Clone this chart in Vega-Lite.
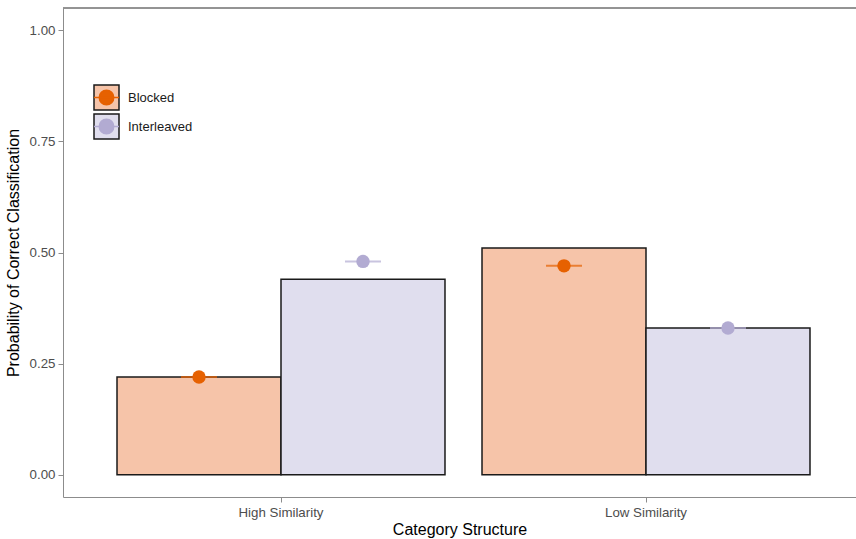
{
  "$schema": "https://vega.github.io/schema/vega-lite/v6.json",
  "width": 793,
  "height": 489,
  "autosize": "none",
  "padding": {"left": 63, "top": 8, "right": 0, "bottom": 42},
  "background": "white",
  "config": {
    "view": {"stroke": null},
    "font": "Liberation Sans",
    "axis": {
      "grid": false,
      "domainColor": "#8c8c8c",
      "domainWidth": 1,
      "tickColor": "#8c8c8c",
      "tickSize": 5,
      "labelColor": "#4d4d4d",
      "labelFontSize": 13.3,
      "titleFontSize": 16,
      "titleFontWeight": "normal",
      "titleColor": "black"
    },
    "legend": {"padding": 0}
  },
  "data": {
    "values": [
      {"structure": "High Similarity", "condition": "Blocked", "group": "Blocked", "bar": 0.22, "point": 0.22},
      {"structure": "High Similarity", "condition": "Interleaved", "group": "Interleaved", "bar": 0.44, "point": 0.48},
      {"structure": "Low Similarity", "condition": "Blocked", "group": "Blocked", "bar": 0.51, "point": 0.47},
      {"structure": "Low Similarity", "condition": "Interleaved", "group": "Interleaved", "bar": 0.33, "point": 0.33}
    ]
  },
  "layer": [
    {
      "mark": {"type": "bar", "stroke": "#1a1a1a", "strokeWidth": 1.5},
      "encoding": {
        "x": {
          "field": "structure",
          "type": "nominal",
          "scale": {"paddingInner": 0.1014, "paddingOuter": 0.137, "align": 0.54},
          "axis": {"title": "Category Structure", "labelAngle": 0, "labelPadding": 3, "titlePadding": 3}
        },
        "xOffset": {
          "field": "condition",
          "type": "nominal",
          "scale": {"paddingInner": 0, "paddingOuter": 0}
        },
        "y": {
          "field": "bar",
          "type": "quantitative",
          "scale": {"domain": [-0.05, 1.05], "nice": false, "zero": false},
          "axis": {
            "title": "Probability of Correct Classification",
            "values": [0, 0.25, 0.5, 0.75, 1],
            "format": ".2f",
            "labelPadding": 3,
            "titlePadding": 8
          }
        },
        "y2": {"datum": 0},
        "fill": {
          "field": "condition",
          "type": "nominal",
          "scale": {"domain": ["Blocked", "Interleaved"], "range": ["#F6C4A9", "#E0DEEE"]},
          "legend": {
            "title": null,
            "orient": "none",
            "legendX": 30,
            "legendY": 76,
            "symbolType": "square",
            "symbolSize": 625,
            "symbolStrokeColor": "#1a1a1a",
            "symbolStrokeWidth": 1.5,
            "symbolOpacity": 1,
            "rowPadding": -8,
            "labelFontSize": 13,
            "labelColor": "#1a1a1a",
            "labelOffset": 8,
            "labelExpr": "''",
            "encode": {
              "symbols": {
                "update": {
                  "stroke": {"value": "#1a1a1a"},
                  "strokeWidth": {"value": 1.5}
                }
              }
            }
          }
        }
      }
    },
    {
      "mark": {"type": "tick", "orient": "horizontal", "size": 36, "thickness": 2},
      "encoding": {
        "x": {"field": "structure", "type": "nominal"},
        "xOffset": {"field": "condition", "type": "nominal"},
        "y": {"field": "point", "type": "quantitative"},
        "color": {"field": "group", "type": "nominal"}
      }
    },
    {
      "mark": {"type": "point", "filled": true, "size": 180, "opacity": 1},
      "encoding": {
        "x": {"field": "structure", "type": "nominal"},
        "xOffset": {"field": "condition", "type": "nominal"},
        "y": {"field": "point", "type": "quantitative"},
        "color": {
          "field": "group",
          "type": "nominal",
          "scale": {"range": ["#E66101", "#B2ABD2"]},
          "legend": {
            "title": null,
            "orient": "none",
            "legendX": 30,
            "legendY": 76,
            "symbolType": "M0,-1L0,-1M0,1L0,1M-1,0H1M0.58,0A0.58,0.58 0 1 1 -0.58,0A0.58,0.58 0 1 1 0.58,0Z",
            "symbolSize": 625,
            "symbolStrokeWidth": 1.5,
            "symbolOpacity": 1,
            "rowPadding": -8,
            "labelFontSize": 13,
            "labelColor": "#1a1a1a",
            "labelOffset": 8,
            "encode": {
              "symbols": {
                "update": {
                  "stroke": {"scale": "color", "field": "value"},
                  "strokeWidth": {"value": 1.5}
                }
              }
            }
          }
        }
      }
    },
    {
      "mark": {"type": "rule", "color": "#8c8c8c", "strokeWidth": 1},
      "encoding": {"y": {"datum": 1.05}}
    }
  ]
}
